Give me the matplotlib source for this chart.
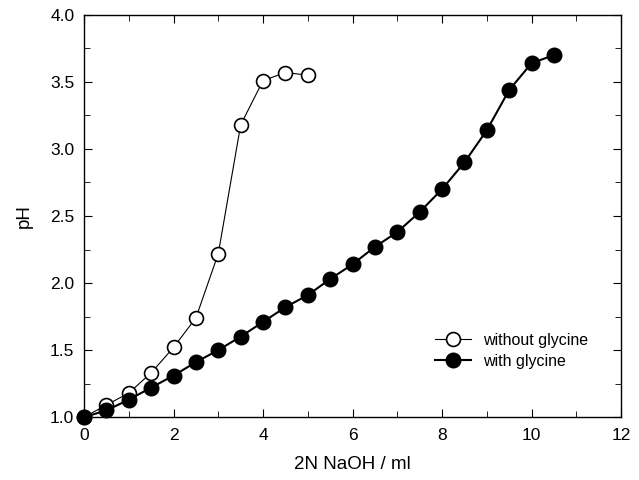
import numpy as np
import matplotlib.pyplot as plt
from matplotlib.ticker import MultipleLocator

plt.rcParams['font.family'] = ['Liberation Sans', 'DejaVu Sans']

# titration without glycine
x_without = [0, 0.5, 1, 1.5, 2, 2.5, 3, 3.5, 4, 4.5, 5]
ph_without = [1.0, 1.09, 1.18, 1.33, 1.52, 1.74, 2.22, 3.18, 3.51, 3.57, 3.55]

# titration with glycine
x_with = [0, 0.5, 1, 1.5, 2, 2.5, 3, 3.5, 4, 4.5, 5, 5.5, 6, 6.5, 7,
          7.5, 8, 8.5, 9, 9.5, 10, 10.5]
ph_with = [1.0, 1.05, 1.13, 1.22, 1.31, 1.41, 1.50, 1.60, 1.71, 1.82, 1.91,
           2.03, 2.14, 2.27, 2.38, 2.53, 2.70, 2.90, 3.14, 3.44, 3.64, 3.70]

fig = plt.figure(figsize=(6.39, 4.8), dpi=100)
ax = fig.add_axes([0.1315, 0.131, 0.8405, 0.838])

ax.plot(x_without, ph_without, color='black', lw=0.8, marker='o',
        ms=10, mfc='white', mec='black', mew=1.2, label='without glycine',
        clip_on=False, zorder=3)
ax.plot(x_with, ph_with, color='black', lw=1.5, marker='o',
        ms=10.5, mfc='black', mec='black', label='with glycine',
        clip_on=False, zorder=4)

ax.set_xlim(0, 12)
ax.set_ylim(1.0, 4.0)
ax.xaxis.set_major_locator(MultipleLocator(2))
ax.xaxis.set_minor_locator(MultipleLocator(1))
ax.yaxis.set_major_locator(MultipleLocator(0.5))
ax.yaxis.set_minor_locator(MultipleLocator(0.25))
ax.yaxis.set_major_formatter(plt.FormatStrFormatter('%.1f'))
ax.tick_params(which='both', direction='in', top=True, right=True,
               labelsize=12.5)
ax.tick_params(axis='x', pad=8)
ax.tick_params(axis='y', pad=7)
ax.tick_params(which='major', length=6)
ax.tick_params(which='minor', length=4)
for s in ax.spines.values():
    s.set_linewidth(1.0)

ax.set_xlabel('2N NaOH / ml', fontsize=13.5, labelpad=9)
ax.set_ylabel('pH', fontsize=13.5, labelpad=12)

ax.legend(loc='lower right', bbox_to_anchor=(0.966, 0.085), frameon=False,
          fontsize=11.5, handlelength=2.2, labelspacing=0.35)

fig.savefig('out.png', dpi=100)
